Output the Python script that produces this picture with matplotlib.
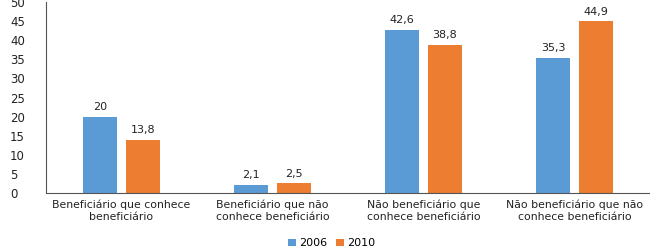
import matplotlib
matplotlib.use("Agg")
import matplotlib.pyplot as plt
import numpy as np

categorias = ["Beneficiário que conhece\nbeneficiário",
              "Beneficiário que não\nconhece beneficiário",
              "Não beneficiário que\nconhece beneficiário",
              "Não beneficiário que não\nconhece beneficiário"]
v2006 = [20, 2.1, 42.6, 35.3]
v2010 = [13.8, 2.5, 38.8, 44.9]
rotulos_2006 = ["20", "2,1", "42,6", "35,3"]
rotulos_2010 = ["13,8", "2,5", "38,8", "44,9"]

plt.rcParams["font.family"] = "DejaVu Sans"
fig = plt.figure(figsize=(6.5, 2.52), dpi=100)
ax = fig.add_axes([0.0708, 0.234, 0.929, 0.758])

x = np.arange(len(categorias)) + 0.5
w = 0.225
off = 0.142
b1 = ax.bar(x - off, v2006, w, color="#5B9BD5", label="2006")
b2 = ax.bar(x + off, v2010, w, color="#ED7D31", label="2010")

for i in range(len(x)):
    ax.text(x[i] - off, v2006[i] + 1.3, rotulos_2006[i], ha="center", va="bottom", fontsize=8, color="#222222")
    ax.text(x[i] + off, v2010[i] + 1.3, rotulos_2010[i], ha="center", va="bottom", fontsize=8, color="#222222")

ax.set_xlim(0, 4)
ax.set_ylim(0, 50)
ax.set_yticks(range(0, 51, 5))
ax.set_xticks(x)
ax.set_xticklabels(categorias, fontsize=7.8, color="#222222")
ax.tick_params(axis="y", length=0, labelsize=8.5, pad=26, colors="#222222")
ax.tick_params(axis="x", length=0, pad=5)
for lab in ax.get_yticklabels():
    lab.set_horizontalalignment("left")
ax.spines["top"].set_visible(False)
ax.spines["right"].set_visible(False)
ax.spines["left"].set_color("#555555")
ax.spines["bottom"].set_color("#555555")

fig.legend(handles=[b1, b2], loc="lower center", bbox_to_anchor=(0.51, -0.025), ncol=2, frameon=False,
           fontsize=8, handlelength=0.7, handleheight=0.7, handletextpad=0.3, columnspacing=0.8)

plt.savefig("out.png", dpi=100)
plt.close()
